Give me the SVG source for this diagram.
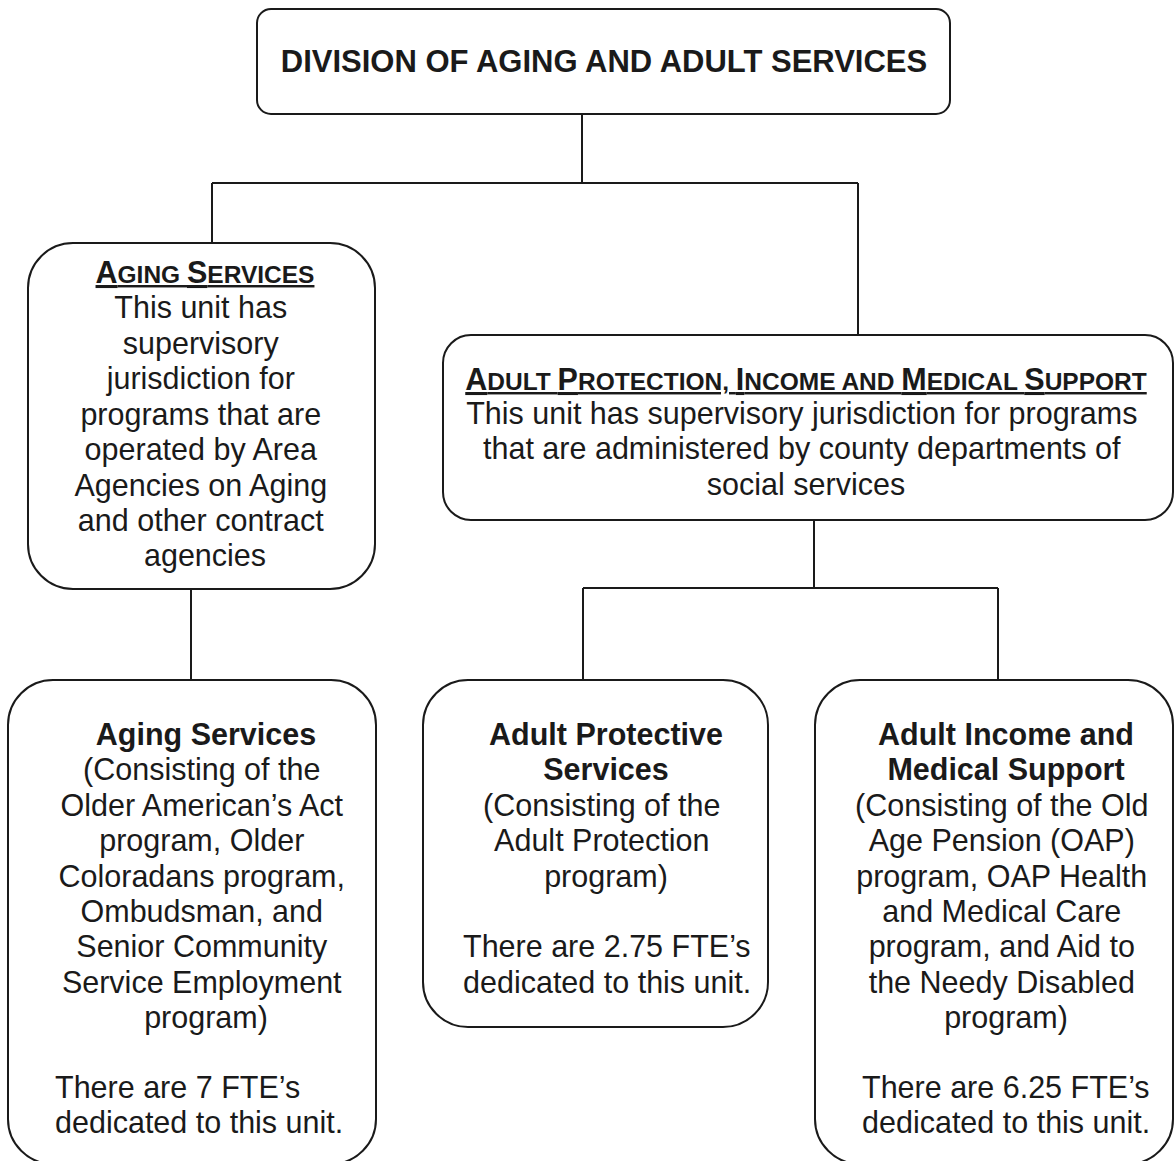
<svg xmlns="http://www.w3.org/2000/svg" width="1175" height="1161" viewBox="0 0 1175 1161">
<style>
.box{fill:#fff;stroke:#1a1a1a;stroke-width:2}
.ln{fill:none;stroke:#1a1a1a;stroke-width:2}
text{font-family:"Liberation Sans",Arial,sans-serif;font-size:30.5px;fill:#1a1a1a}
.c{text-anchor:middle}
.b{font-weight:bold}
.t{font-size:31px}
.sc{font-size:24.5px}
.u{text-decoration:underline}
</style>
<rect width="1175" height="1161" fill="#fff"/>
<g id="connectors">
<path class="ln" d="M582 114V183M212 183H858M212 183V243M858 183V335"/>
<path class="ln" d="M191 589V680"/>
<path class="ln" d="M814 520V588M583 588H998M583 588V680M998 588V680"/>
</g>
<g id="division">
<rect class="box" x="257" y="9" width="693" height="105" rx="14"/>
<text class="c b t" x="604" y="72">DIVISION OF AGING AND ADULT SERVICES</text>
</g>
<g id="aging-unit">
<rect class="box" x="28" y="243" width="347" height="346" rx="45"/>
<text class="c b u" x="205" y="283">A<tspan class="sc">GING </tspan>S<tspan class="sc">ERVICES</tspan></text>
<text class="c" x="205">
<tspan x="205" y="318">This unit has</tspan>
<tspan x="205" y="354">supervisory</tspan>
<tspan x="205" y="389">jurisdiction for</tspan>
<tspan x="205" y="425">programs that are</tspan>
<tspan x="205" y="460">operated by Area</tspan>
<tspan x="205" y="496">Agencies on Aging</tspan>
<tspan x="205" y="531">and other contract</tspan>
<tspan x="205" y="566">agencies</tspan>
</text>
</g>
<g id="adult-unit">
<rect class="box" x="443" y="335" width="730" height="185" rx="28"/>
<text class="c b u" x="806" y="390">A<tspan class="sc">DULT </tspan>P<tspan class="sc">ROTECTION, </tspan>I<tspan class="sc">NCOME AND </tspan>M<tspan class="sc">EDICAL </tspan>S<tspan class="sc">UPPORT</tspan></text>
<text class="c" x="806">
<tspan x="806" y="424">This unit has supervisory jurisdiction for programs</tspan>
<tspan x="806" y="459">that are administered by county departments of</tspan>
<tspan x="806" y="495">social services</tspan>
</text>
</g>
<g id="aging-services">
<rect class="box" x="8" y="680" width="368" height="484" rx="45"/>
<text class="c b" x="206" y="745">Aging Services</text>
<text class="c" x="206">
<tspan x="206" y="780">(Consisting of the</tspan>
<tspan x="206" y="816">Older American’s Act</tspan>
<tspan x="206" y="851">program, Older</tspan>
<tspan x="206" y="887">Coloradans program,</tspan>
<tspan x="206" y="922">Ombudsman, and</tspan>
<tspan x="206" y="957">Senior Community</tspan>
<tspan x="206" y="993">Service Employment</tspan>
<tspan x="206" y="1028">program)</tspan>
</text>
<text x="55"><tspan x="55" y="1098">There are 7 FTE’s</tspan><tspan x="55" y="1133">dedicated to this unit.</tspan></text>
</g>
<g id="adult-protective">
<rect class="box" x="423" y="680" width="345" height="347" rx="45"/>
<text class="c b" x="606"><tspan x="606" y="745">Adult Protective</tspan><tspan x="606" y="780">Services</tspan></text>
<text class="c" x="606">
<tspan x="606" y="816">(Consisting of the</tspan>
<tspan x="606" y="851">Adult Protection</tspan>
<tspan x="606" y="887">program)</tspan>
</text>
<text x="463"><tspan x="463" y="957">There are 2.75 FTE’s</tspan><tspan x="463" y="993">dedicated to this unit.</tspan></text>
</g>
<g id="adult-income">
<rect class="box" x="815" y="680" width="358" height="484" rx="45"/>
<text class="c b" x="1006"><tspan x="1006" y="745">Adult Income and</tspan><tspan x="1006" y="780">Medical Support</tspan></text>
<text class="c" x="1006">
<tspan x="1006" y="816">(Consisting of the Old</tspan>
<tspan x="1006" y="851">Age Pension (OAP)</tspan>
<tspan x="1006" y="887">program, OAP Health</tspan>
<tspan x="1006" y="922">and Medical Care</tspan>
<tspan x="1006" y="957">program, and Aid to</tspan>
<tspan x="1006" y="993">the Needy Disabled</tspan>
<tspan x="1006" y="1028">program)</tspan>
</text>
<text x="862"><tspan x="862" y="1098">There are 6.25 FTE’s</tspan><tspan x="862" y="1133">dedicated to this unit.</tspan></text>
</g>
</svg>
